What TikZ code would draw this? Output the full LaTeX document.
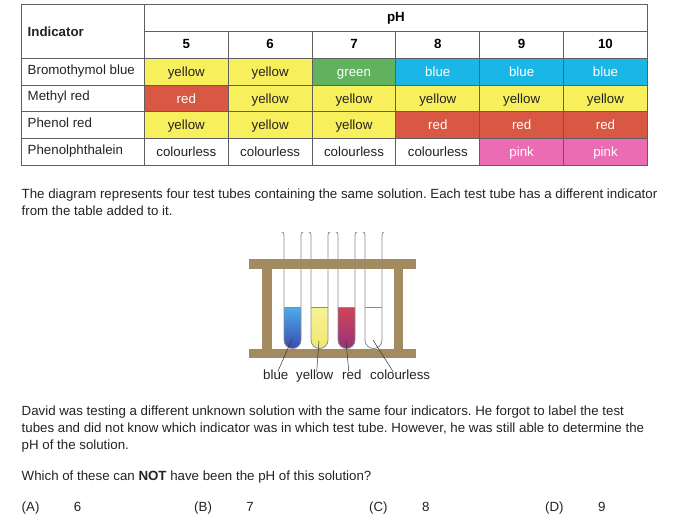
\documentclass[tikz,border=0pt]{standalone}
\usepackage{fontspec}
\setmainfont{Liberation Sans}
\usepackage{xcolor}
\usetikzlibrary{positioning}
\frenchspacing

\definecolor{gridgray}{RGB}{95,95,95}
\definecolor{txtdark}{RGB}{35,35,35}
\definecolor{cyellow}{RGB}{248,239,92}
\definecolor{cgreen}{RGB}{96,178,94}
\definecolor{cblue}{RGB}{26,183,230}
\definecolor{cred}{RGB}{216,88,67}
\definecolor{cpink}{RGB}{236,108,180}
\definecolor{rackbrown}{RGB}{164,138,96}
\definecolor{tubegray}{RGB}{140,140,140}
\definecolor{bluetop}{RGB}{78,172,236}
\definecolor{bluebot}{RGB}{58,74,176}
\definecolor{yellowtop}{RGB}{246,242,150}
\definecolor{yellowbot}{RGB}{242,232,112}
\definecolor{redtop}{RGB}{208,68,88}
\definecolor{redbot}{RGB}{150,52,120}

\begin{document}
\begin{tikzpicture}[x=1pt, y=-1pt, font=\fontsize{13.3}{16.8}\selectfont,
    cell/.style={rectangle, draw=gridgray, line width=0.8pt, inner sep=0pt, anchor=north west, minimum height=26.83pt, text height=9.5pt, text depth=0pt},
    phcell/.style={cell, minimum width=83.83pt},
    indname/.style={anchor=base west, inner sep=0pt, text=txtdark},
    body/.style={anchor=base west, inner sep=0pt, align=left, text=txtdark},
    lbl/.style={anchor=base west, inner sep=0pt, text=txtdark},
    tube/.style={draw=tubegray, line width=0.8pt},
    leader/.style={draw=black!80, line width=0.5pt}]

    \useasboundingbox (0,0) rectangle (695,523);

    \node[cell, minimum width=123pt, minimum height=53.67pt] (ind) at (21,4) {};
    \node[indname, font=\fontsize{13.3}{16.8}\selectfont\bfseries] (indtitle) at (27.5,36) {Indicator};
    \node[cell, minimum width=502.98pt, text depth=2.5pt] (ph) at (144,4) {\textbf{pH}};
    \foreach \v [count=\c from 0] in {5,...,10}
        \node[phcell, text depth=1.5pt] (n-\c) at (144+83.83*\c,30.83) {\textbf{\v}};

    \foreach \nm [count=\r from 0] in {Bromothymol blue, Methyl red, Phenol red, Phenolphthalein} {
        \node[cell, minimum width=123pt] (i-\r) at (21,57.67+26.83*\r) {};
        \node[indname] (name-\r) at (27.5,74+26.7*\r) {\nm};
    }

    \foreach \txt/\fcol/\tcol [count=\c from 0] in {yellow/cyellow/txtdark, yellow/cyellow/txtdark, green/cgreen/white, blue/cblue/white, blue/cblue/white, blue/cblue/white}
        \node[phcell, fill=\fcol, text=\tcol] (v-0-\c) at (144+83.83*\c,57.67) {\txt};
    \foreach \txt/\fcol/\tcol [count=\c from 0] in {red/cred/white, yellow/cyellow/txtdark, yellow/cyellow/txtdark, yellow/cyellow/txtdark, yellow/cyellow/txtdark, yellow/cyellow/txtdark}
        \node[phcell, fill=\fcol, text=\tcol] (v-1-\c) at (144+83.83*\c,84.5) {\txt};
    \foreach \txt/\fcol/\tcol [count=\c from 0] in {yellow/cyellow/txtdark, yellow/cyellow/txtdark, yellow/cyellow/txtdark, red/cred/white, red/cred/white, red/cred/white}
        \node[phcell, fill=\fcol, text=\tcol] (v-2-\c) at (144+83.83*\c,111.33) {\txt};
    \foreach \txt/\fcol/\tcol [count=\c from 0] in {colourless/white/txtdark, colourless/white/txtdark, colourless/white/txtdark, colourless/white/txtdark, pink/cpink/white, pink/cpink/white}
        \node[phcell, fill=\fcol, text=\tcol] (v-3-\c) at (144+83.83*\c,138.17) {\txt};

    \node[body] (intro) at (21.5,215.5) {The diagram represents four test tubes containing the same solution. Each test tube has a different indicator\\from the table added to it.};

    % rack
    \fill[rackbrown] (249,259) rectangle (416,269);
    \fill[rackbrown] (249,349) rectangle (416,358);
    \fill[rackbrown] (262,269) rectangle (272,349);
    \fill[rackbrown] (394,269) rectangle (403,349);

    % tubes
    \foreach \x/\ctop/\cbot [count=\i] in {284/bluetop/bluebot, 311/yellowtop/yellowbot, 338/redtop/redbot, 365/white/white} {
        \shade[top color=\ctop, bottom color=\cbot] (\x,307) -- (\x,340) arc (180:0:8.5) -- (\x+17,307) -- cycle;
        \draw[tube] (\x-2.2,232) .. controls (\x-0.6,232) and (\x,233) .. (\x,235.5) -- (\x,340) arc (180:0:8.5) -- (\x+17,235.5) .. controls (\x+17,233) and (\x+17.6,232) .. (\x+19.2,232);
        \draw[tube] (\x,307) -- (\x+17,307);
    }
    \coordinate (tb-1) at (292,339);
    \coordinate (tb-2) at (319,341);
    \coordinate (tb-3) at (346,341);
    \coordinate (tb-4) at (373,340);

    \node[lbl] (blue) at (263,379.5) {blue};
    \node[lbl] (yellow) at (296,379.5) {yellow};
    \node[lbl] (red) at (342,379.5) {red};
    \node[lbl] (colourless) at (370,379.5) {colourless};

    \path[leader]
    (tb-1) edge ([xshift=2pt,yshift=-2pt]blue.north)
    (tb-2) edge ([xshift=2pt,yshift=-2pt]yellow.north)
    (tb-3) edge ([xshift=-3pt,yshift=-2pt]red.north)
    (tb-4) edge ([xshift=-7pt,yshift=-2pt]colourless.north);

    \node[body] (story) at (21.5,449) {David was testing a different unknown solution with the same four indicators. He forgot to label the test\\tubes and did not know which indicator was in which test tube. However, he was still able to determine the\\pH of the solution.};
    \node[body] (question) at (21.5,480) {Which of these can \textbf{NOT} have been the pH of this solution?};

    \node[body] (optA) at (21.5,511) {(A)};
    \node[body, right=34pt of optA.base east, anchor=base west] (valA) {6};
    \node[body] (optB) at (194,511) {(B)};
    \node[body, right=34pt of optB.base east, anchor=base west] (valB) {7};
    \node[body] (optC) at (369,511) {(C)};
    \node[body, right=34pt of optC.base east, anchor=base west] (valC) {8};
    \node[body] (optD) at (545,511) {(D)};
    \node[body, right=34pt of optD.base east, anchor=base west] (valD) {9};
\end{tikzpicture}
\end{document}
